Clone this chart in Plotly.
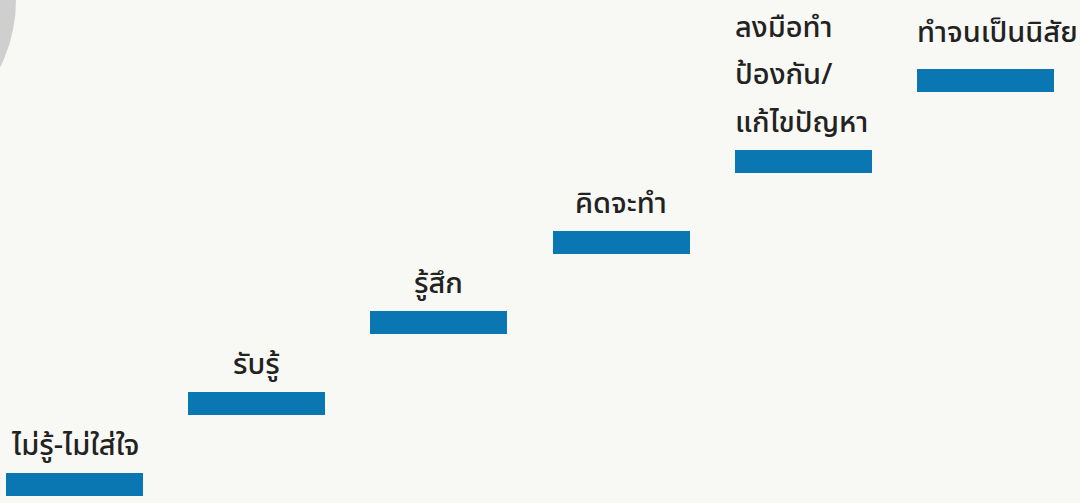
import plotly.graph_objects as go

# Data
steps = ["ไม่รู้-ไม่ใส่ใจ", "รับรู้", "รู้สึก", "คิดจะทำ", "ลงมือทำ\nป้องกัน/\nแก้ไขปัญหา", "ทำจนเป็นนิสัย"]
levels = [0, 1, 2, 3, 4, 5]
positions = [0, 1, 2, 3, 4, 5]

BAR_COLOR = "#0a77b3"
BG = "#f8f8f4"
TEXT_COLOR = "#222222"
THICK = 0.285
BAR_W = 0.752
FONT = "Noto Sans Thai, Noto Sans, sans-serif"
EXTRA_LIFT = {5: 9}          # label styling offset (px)
LEFT_ALIGNED = {4, 5}        # labels that start at the bar's left edge

fig = go.Figure()
fig.add_trace(go.Bar(
    x=positions, y=[THICK] * len(levels), base=levels,
    width=BAR_W, marker=dict(color=BAR_COLOR, line=dict(width=0)),
    hoverinfo="skip", showlegend=False,
))

LINE_H = 47.5
for i, (xp, lv, lab) in enumerate(zip(positions, levels, steps)):
    lines = lab.split("\n")
    n = len(lines)
    left = i in LEFT_ALIGNED
    for k, ln in enumerate(lines):
        fig.add_annotation(
            x=xp - BAR_W / 2 if left else xp, y=lv + THICK, xref="x", yref="y",
            text=ln, showarrow=False, yanchor="bottom",
            xanchor="left" if left else "center",
            xshift=-2 if left else 0,
            yshift=3 + (n - 1 - k) * LINE_H + EXTRA_LIFT.get(i, 0),
            font=dict(family=FONT, size=29, color=TEXT_COLOR, weight=500),
        )

fig.add_shape(type="circle", xref="paper", yref="paper",
              x0=-284 / 1080, x1=16 / 1080, y0=1 - 150 / 503, y1=1 + 150 / 503,
              fillcolor="#cfcfcf", line=dict(width=0), layer="below")

fig.update_layout(
    width=1080, height=503, margin=dict(l=0, r=0, t=0, b=0),
    paper_bgcolor=BG, plot_bgcolor=BG,
    xaxis=dict(range=[-0.409, 5.519], visible=False, showgrid=False, zeroline=False),
    yaxis=dict(range=[-0.0866, 6.139], visible=False, showgrid=False, zeroline=False),
    bargap=0,
)

fig.write_html("out.html", config={"displayModeBar": False},
               post_script="document.body.style.margin='0';")
